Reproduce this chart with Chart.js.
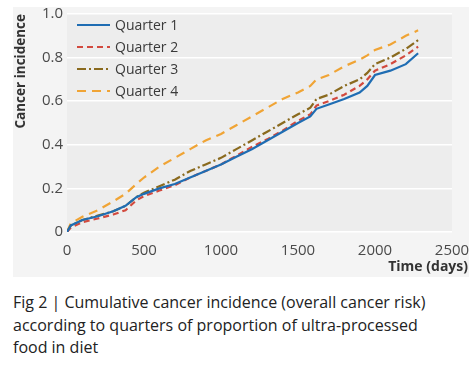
<!DOCTYPE html>
<html>
<head>
<meta charset="utf-8">
<script src="https://cdn.jsdelivr.net/npm/chart.js@4.4.1/dist/chart.umd.min.js"></script>
<style>
  body { margin: 0; background: #fff; font-family: "Open Sans", sans-serif; }
  #panel { position: absolute; left: 13px; top: 7px; width: 456px; height: 270px; background: #f4f4f4; }
  #wrap { position: absolute; left: 0; top: 0; width: 474px; height: 280px; }
  #caption { position: absolute; left: 13px; top: 291px; width: 438px; font-size: 16px; line-height: 22.5px; color: #222; }
</style>
</head>
<body>
<div id="panel"></div>
<div id="wrap"><canvas id="chartContainer" width="474" height="280"></canvas></div>
<div id="caption">Fig 2 | Cumulative cancer incidence (overall cancer risk) according to quarters of proportion of ultra-processed food in diet</div>
<script>
// time points (days) and cumulative incidence per quarter
const days = [0, 25, 100, 200, 300, 380, 450, 500, 600, 700, 800, 900, 1000, 1100, 1200, 1300, 1400, 1500, 1580, 1620, 1700, 1800, 1900, 1950, 2000, 2100, 2200, 2280];
const quarter1 = [0, 0.03, 0.055, 0.072, 0.095, 0.12, 0.16, 0.175, 0.2, 0.22, 0.25, 0.28, 0.31, 0.345, 0.38, 0.42, 0.46, 0.5, 0.53, 0.565, 0.585, 0.61, 0.64, 0.67, 0.72, 0.74, 0.77, 0.82];
const quarter2 = [0, 0.02, 0.045, 0.062, 0.08, 0.1, 0.145, 0.165, 0.19, 0.215, 0.25, 0.28, 0.31, 0.35, 0.39, 0.425, 0.465, 0.51, 0.54, 0.58, 0.6, 0.63, 0.67, 0.7, 0.74, 0.77, 0.81, 0.85];
const quarter3 = [0, 0.03, 0.055, 0.075, 0.095, 0.12, 0.16, 0.18, 0.21, 0.24, 0.28, 0.31, 0.34, 0.38, 0.42, 0.46, 0.5, 0.54, 0.57, 0.61, 0.63, 0.67, 0.7, 0.73, 0.77, 0.8, 0.84, 0.88];
const quarter4 = [0, 0.04, 0.07, 0.1, 0.14, 0.175, 0.22, 0.25, 0.3, 0.34, 0.38, 0.42, 0.45, 0.49, 0.53, 0.57, 0.61, 0.64, 0.67, 0.7, 0.72, 0.76, 0.79, 0.81, 0.835, 0.86, 0.9, 0.925];
const seriesNames = ['Quarter 1', 'Quarter 2', 'Quarter 3', 'Quarter 4'];
const xTicks = [0, 500, 1000, 1500, 2000, 2500];
const yTicks = [0, 0.2, 0.4, 0.6, 0.8, 1.0];

const colors = ['#1f6db3', '#d24a3e', '#8a6a1e', '#f0a435'];
const dashes = [[], [6, 4], [9, 3, 2, 3], [9, 6]];
const allSeries = [quarter1, quarter2, quarter3, quarter4];

const FONT = '"Open Sans", sans-serif';

const plotBg = {
  id: 'plotBg',
  beforeDraw(chart) {
    const { ctx, chartArea: a } = chart;
    ctx.save();
    ctx.fillStyle = '#ededed';
    ctx.fillRect(a.left, a.top, a.right - a.left, a.bottom - a.top);
    ctx.restore();
  }
};

const insideLegend = {
  id: 'insideLegend',
  afterDraw(chart) {
    const { ctx, chartArea: a } = chart;
    ctx.save();
    ctx.font = '14px ' + FONT;
    ctx.textBaseline = 'middle';
    chart.data.datasets.forEach((ds, i) => {
      const y = a.top + 11 + i * 22;
      const x0 = a.left + 10;
      ctx.strokeStyle = ds.borderColor;
      ctx.lineWidth = 2.2;
      ctx.setLineDash(ds.borderDash || []);
      ctx.beginPath();
      ctx.moveTo(x0, y);
      ctx.lineTo(x0 + 33, y);
      ctx.stroke();
      ctx.setLineDash([]);
      ctx.fillStyle = '#3a3a3a';
      ctx.fillText(ds.label, x0 + 38, y + 1);
    });
    // x axis title, right aligned under the axis
    ctx.font = 'bold 14px ' + FONT;
    ctx.textAlign = 'right';
    ctx.fillStyle = '#333';
    ctx.fillText('Time (days)', a.right + 16, a.bottom + 35);
    ctx.restore();
  }
};

const ctx = document.getElementById('chartContainer');

new Chart(ctx, {
  type: 'line',
  data: {
    datasets: allSeries.map((s, i) => ({
      label: seriesNames[i],
      data: days.map((d, j) => ({ x: d, y: s[j] })),
      borderColor: colors[i],
      borderDash: dashes[i],
      borderWidth: 2.2,
      pointRadius: 0,
      tension: 0,
      fill: false
    }))
  },
  options: {
    responsive: false,
    animation: false,
    layout: { padding: { top: 14, right: 22, left: 0, bottom: 0 } },
    plugins: { legend: { display: false }, tooltip: { enabled: false } },
    scales: {
      x: {
        type: 'linear',
        min: 0,
        max: 2500,
        afterBuildTicks: (scale) => { scale.ticks = xTicks.map(v => ({ value: v })); },
        afterFit: (scale) => { scale.height = 48; },
        grid: { display: false },
        border: { display: false },
        ticks: {
          color: '#4a4a4a',
          font: { family: FONT, size: 15 },
          padding: 2,
          maxRotation: 0,
          callback: (v) => String(v)
        }
      },
      y: {
        min: 0,
        max: 1,
        afterBuildTicks: (scale) => { scale.ticks = yTicks.map(v => ({ value: v })); },
        afterFit: (scale) => { scale.width = 67; },
        grid: { color: '#ffffff', lineWidth: 1.5, drawTicks: false },
        border: { display: false },
        ticks: {
          color: '#4a4a4a',
          font: { family: FONT, size: 15 },
          padding: 4,
          callback: (v) => v === 0 ? '0' : v.toFixed(1)
        },
        title: {
          display: true,
          text: 'Cancer incidence',
          align: 'end',
          color: '#333',
          font: { family: FONT, size: 13.5, weight: 'bold' },
          padding: { top: 13, bottom: 0 }
        }
      }
    }
  },
  plugins: [plotBg, insideLegend]
});
</script>
</body>
</html>
